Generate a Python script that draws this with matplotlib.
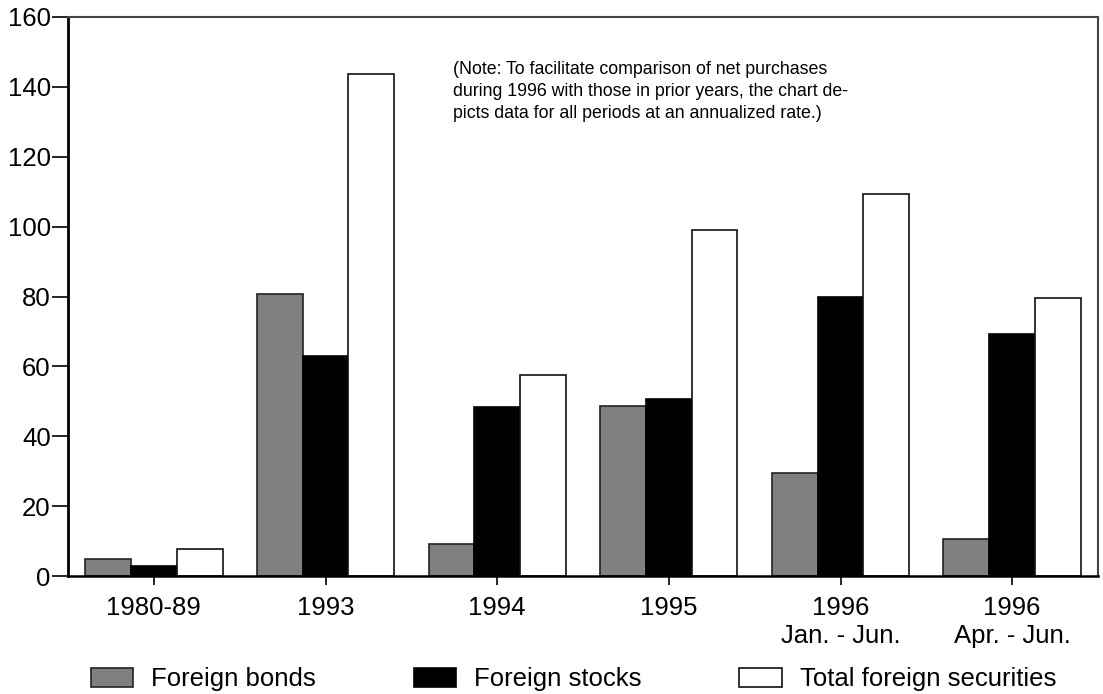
import numpy as np
import matplotlib
matplotlib.use("Agg")
import matplotlib.pyplot as plt

plt.rcParams['font.family'] = ['Liberation Sans', 'DejaVu Sans']

# periods and annualized net purchases
periods = ["1980-89", "1993", "1994", "1995", "1996\nJan. - Jun.", "1996\nApr. - Jun."]
bonds = [5.0, 80.6, 9.3, 48.7, 29.5, 10.5]
stocks = [3.0, 63.1, 48.5, 50.7, 79.9, 69.2]
total = [7.7, 143.6, 57.4, 99.0, 109.2, 79.6]
yticks = [0, 20, 40, 60, 80, 100, 120, 140, 160]

note = ("(Note: To facilitate comparison of net purchases\n"
        "during 1996 with those in prior years, the chart de-\n"
        "picts data for all periods at an annualized rate.)")

fig = plt.figure(figsize=(11.03, 6.94), dpi=100)
ax = fig.add_axes([68/1103, 118/694, 1030/1103, 559/694])

x = np.arange(len(periods))
w = 0.8/3
ax.bar(x - w, bonds, w, color="#808080", edgecolor="#222222", linewidth=1.2, label="Foreign bonds")
ax.bar(x, stocks, w, color="black", edgecolor="black", linewidth=1.2, label="Foreign stocks")
ax.bar(x + w, total, w, color="white", edgecolor="#111111", linewidth=1.2, label="Total foreign securities")

ax.set_xlim(-0.5, len(periods) - 0.5)
ax.set_ylim(0, 160)
ax.set_yticks(yticks)
ax.set_xticks(x)
ax.set_xticklabels(periods, fontsize=18.5, linespacing=1.2)
ax.tick_params(axis='y', labelsize=18.5, length=11.5, width=1.2, pad=1, direction='out')
ax.tick_params(axis='x', length=6.5, width=1.2, pad=8, direction='out')

ax.spines['left'].set_linewidth(2)
ax.spines['bottom'].set_linewidth(1.8)
ax.spines['top'].set_color('#444444')
ax.spines['right'].set_color('#444444')
ax.spines['top'].set_linewidth(1.5)
ax.spines['right'].set_linewidth(1.5)

ax.text(0.374, 0.922, note, transform=ax.transAxes, fontsize=12.8,
        va='top', ha='left', linespacing=1.4)

fig.legend(loc='lower left', bbox_to_anchor=(73/1103, -0.022), ncol=3, frameon=False,
           fontsize=18.5, handlelength=1.65, handleheight=0.75, handletextpad=0.7,
           columnspacing=3.8, borderaxespad=0.3)

fig.savefig("out.png", dpi=100)
